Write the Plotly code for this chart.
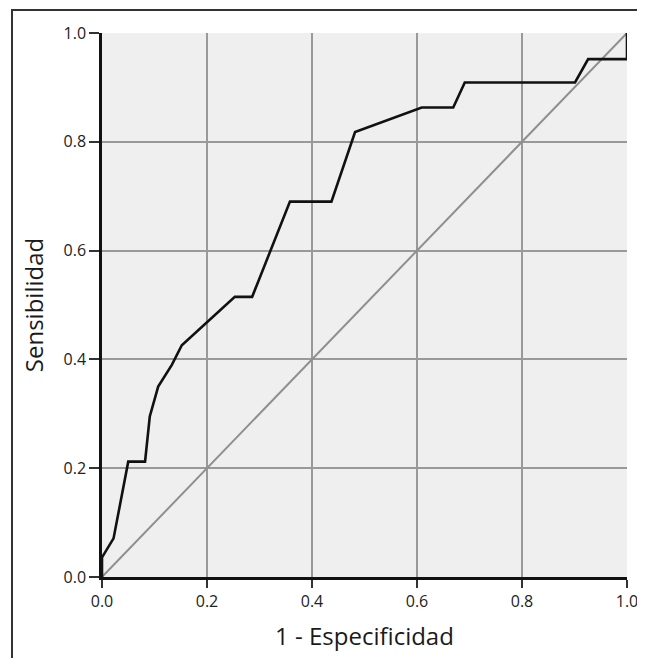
import plotly.graph_objects as go

# ROC curve points (1 - specificity, sensitivity)
fpr = [0.0, 0.0, 0.022, 0.050, 0.082, 0.091, 0.107, 0.133, 0.152, 0.253, 0.286,
       0.358, 0.437, 0.482, 0.609, 0.669, 0.691, 0.901, 0.926, 1.0, 1.0]
tpr = [0.0, 0.036, 0.071, 0.212, 0.212, 0.295, 0.350, 0.390, 0.426, 0.515, 0.515,
       0.690, 0.690, 0.818, 0.863, 0.863, 0.909, 0.909, 0.952, 0.952, 1.0]

ref_x = [0.0, 1.0]
ref_y = [0.0, 1.0]

tick_vals = [0.0, 0.2, 0.4, 0.6, 0.8, 1.0]
tick_text = ["0.0", "0.2", "0.4", "0.6", "0.8", "1.0"]

fig = go.Figure()
fig.add_trace(go.Scatter(x=ref_x, y=ref_y, mode="lines",
                         line=dict(color="#8f8f8f", width=2), hoverinfo="skip"))
fig.add_trace(go.Scatter(x=fpr, y=tpr, mode="lines",
                         line=dict(color="#111111", width=2.6)))

# page has an 8px body margin; figure sized to fit inside the viewport
OFF = 8
W, H = 645 - 2 * OFF, 666 - 2 * OFF
L, T = 102 - OFF, 33 - OFF
R = W - (627 - OFF)
B = H - (577 - OFF)
pw, ph = W - L - R, H - T - B

def px_to_paper_x(px):
    return (px - OFF - L) / pw

def px_to_paper_y(py):
    return (H - B - (py - OFF)) / ph

fig.add_shape(type="rect", xref="paper", yref="paper",
              x0=px_to_paper_x(12), x1=px_to_paper_x(640),
              y0=px_to_paper_y(700), y1=px_to_paper_y(10),
              line=dict(color="#333333", width=2), layer="below")

font_family = "Open Sans, Noto Sans, sans-serif"

fig.update_layout(
    width=W, height=H,
    margin=dict(l=L, r=R, t=T, b=B),
    paper_bgcolor="white",
    plot_bgcolor="#efefef",
    showlegend=False,
    font=dict(family=font_family, color="#222222"),
    xaxis=dict(
        range=[0, 1], tickvals=tick_vals, ticktext=tick_text,
        showgrid=True, gridcolor="#999999", gridwidth=2,
        zeroline=False, showline=True, linecolor="#111111", linewidth=2.5,
        ticks="outside", ticklen=8, tickcolor="#333333", tickwidth=1.5,
        tickfont=dict(size=16, color="#222222"), ticklabeloverflow="allow",
        title=dict(text="1 - Especificidad", font=dict(size=24, color="#1a1a1a"), standoff=18),
        fixedrange=True, automargin=False,
    ),
    yaxis=dict(
        range=[0, 1], tickvals=tick_vals, ticktext=tick_text,
        showgrid=True, gridcolor="#999999", gridwidth=2,
        zeroline=False, showline=True, linecolor="#111111", linewidth=2.5,
        ticks="outside", ticklen=10, tickcolor="#333333", tickwidth=1.5,
        tickfont=dict(size=16, color="#222222"), ticklabeloverflow="allow",
        title=dict(text="Sensibilidad", font=dict(size=24, color="#1a1a1a"), standoff=14),
        fixedrange=True, automargin=False,
    ),
)

fig.write_html("out.html")
